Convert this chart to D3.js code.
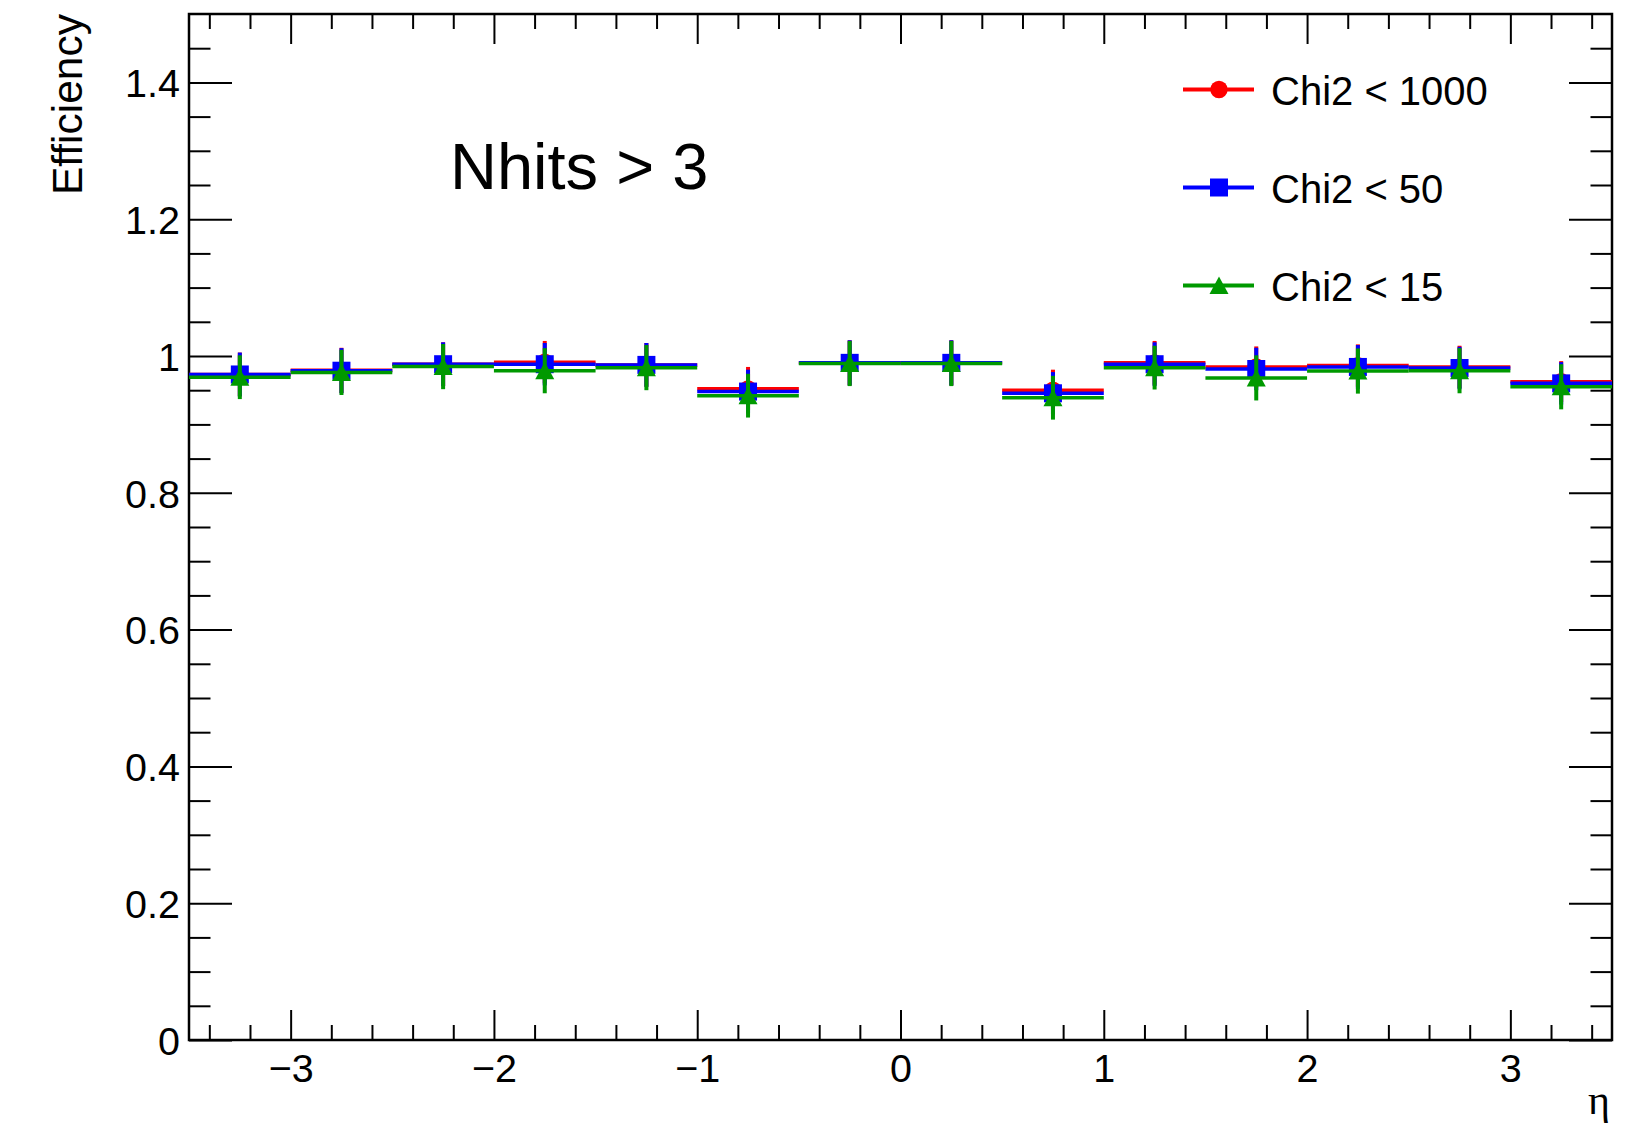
<!DOCTYPE html>
<html>
<head>
<meta charset="utf-8">
<script src="https://cdn.jsdelivr.net/npm/d3@7"></script>
<style>
  html, body { margin: 0; padding: 0; background: #fff; }
  svg { display: block; font-family: "Liberation Sans", Arial, Helvetica, sans-serif; }
</style>
</head>
<body>
<svg id="chart" width="1650" height="1129"></svg>
<script>
// Efficiency vs pseudorapidity, 14 bins of width 0.5
const binEdges = [-3.5, -3, -2.5, -2, -1.5, -1, -0.5, 0, 0.5, 1, 1.5, 2, 2.5, 3, 3.5];

const effChi1000 = [0.973, 0.979, 0.988, 0.991, 0.987, 0.952, 0.990, 0.990, 0.950, 0.990, 0.984, 0.986, 0.984, 0.9625];
const effChi50   = [0.973, 0.9785, 0.988, 0.988, 0.987, 0.948, 0.990, 0.990, 0.9455, 0.988, 0.981, 0.984, 0.9825, 0.960];
const effChi15   = [0.969, 0.976, 0.9845, 0.9785, 0.983, 0.942, 0.989, 0.989, 0.939, 0.983, 0.968, 0.978, 0.9785, 0.955];

const errChi1000 = [0.032, 0.033, 0.032, 0.031, 0.032, 0.032, 0.033, 0.033, 0.030, 0.032, 0.030, 0.031, 0.031, 0.030];
const errChi50   = [0.032, 0.033, 0.032, 0.031, 0.032, 0.032, 0.033, 0.033, 0.031, 0.032, 0.031, 0.032, 0.031, 0.031];
const errChi15   = [0.032, 0.033, 0.033, 0.033, 0.033, 0.032, 0.033, 0.033, 0.032, 0.032, 0.033, 0.033, 0.033, 0.033];

const seriesNames  = ["Chi2 < 1000", "Chi2 < 50", "Chi2 < 15"];
const seriesColors = ["#ff0000", "#0000ff", "#009900"];
const seriesMarkers = ["circle", "square", "triangle"];

const xMajorTicks = [-3, -2, -1, 0, 1, 2, 3];
const yMajorTicks = [0, 0.2, 0.4, 0.6, 0.8, 1, 1.2, 1.4];

const series = [
  { name: seriesNames[0], color: seriesColors[0], marker: seriesMarkers[0], eff: effChi1000, err: errChi1000 },
  { name: seriesNames[1], color: seriesColors[1], marker: seriesMarkers[1], eff: effChi50,   err: errChi50 },
  { name: seriesNames[2], color: seriesColors[2], marker: seriesMarkers[2], eff: effChi15,   err: errChi15 }
];

// frame geometry
const L = 189, R = 1612, T = 14, B = 1040;
const svg = d3.select("#chart");

const x = d3.scaleLinear().domain([-3.5, 3.5]).range([L, R]);
const y = d3.scaleLinear().domain([0, 1.5]).range([B, T]);

const xMinor = d3.range(-3.4, 3.41, 0.2).map(v => +v.toFixed(1)).filter(v => !xMajorTicks.includes(v));
const yMinor = d3.range(0.05, 1.5, 0.05).map(v => +v.toFixed(2)).filter(v => !yMajorTicks.some(t => Math.abs(t - v) < 1e-6));

const tickFont = 39.5;
const xTickLen = 30, yTickLen = 43;

function styleAxis(g) {
  g.select(".domain").remove();
  g.selectAll(".tick line").attr("stroke", "#000").attr("stroke-width", 2);
}

// bottom axis
const gxB = svg.append("g").attr("transform", `translate(0,${B})`)
  .call(d3.axisBottom(x).tickValues(xMajorTicks).tickSize(-xTickLen).tickFormat(d3.format("d")));
styleAxis(gxB);
gxB.selectAll(".tick text").attr("y", 42).attr("dy", null)
  .attr("font-size", tickFont).attr("fill", "#000").attr("font-family", "Liberation Sans, Arial, sans-serif");
svg.append("g").attr("transform", `translate(0,${B})`)
  .call(d3.axisBottom(x).tickValues(xMinor).tickSize(-xTickLen / 2).tickFormat(""))
  .call(styleAxis);

// top axis
svg.append("g").attr("transform", `translate(0,${T})`)
  .call(d3.axisTop(x).tickValues(xMajorTicks).tickSize(-xTickLen).tickFormat(""))
  .call(styleAxis);
svg.append("g").attr("transform", `translate(0,${T})`)
  .call(d3.axisTop(x).tickValues(xMinor).tickSize(-xTickLen / 2).tickFormat(""))
  .call(styleAxis);

// left axis
const gyL = svg.append("g").attr("transform", `translate(${L},0)`)
  .call(d3.axisLeft(y).tickValues(yMajorTicks).tickSize(-yTickLen).tickPadding(9).tickFormat(d3.format("~g")));
styleAxis(gyL);
gyL.selectAll(".tick text").attr("dy", "0.36em")
  .attr("font-size", tickFont).attr("fill", "#000").attr("font-family", "Liberation Sans, Arial, sans-serif");
svg.append("g").attr("transform", `translate(${L},0)`)
  .call(d3.axisLeft(y).tickValues(yMinor).tickSize(-yTickLen / 2).tickFormat(""))
  .call(styleAxis);

// right axis
svg.append("g").attr("transform", `translate(${R},0)`)
  .call(d3.axisRight(y).tickValues(yMajorTicks).tickSize(-yTickLen).tickFormat(""))
  .call(styleAxis);
svg.append("g").attr("transform", `translate(${R},0)`)
  .call(d3.axisRight(y).tickValues(yMinor).tickSize(-yTickLen / 2).tickFormat(""))
  .call(styleAxis);

// frame
svg.append("rect").attr("x", L).attr("y", T).attr("width", R - L).attr("height", B - T)
  .attr("fill", "none").attr("stroke", "#000").attr("stroke-width", 2.5);

// axis titles
svg.append("text").attr("transform", `translate(82,${T}) rotate(-90)`)
  .attr("text-anchor", "end").attr("font-size", 42.5).attr("fill", "#000").text("Efficiency");
svg.append("text").attr("x", R - 2).attr("y", 1114)
  .attr("text-anchor", "end").attr("font-size", 42)
  .attr("font-family", "Liberation Serif, DejaVu Serif, serif")
  .attr("fill", "#000").text("η");

// marker shapes
function markerPath(type) {
  if (type === "circle") return d3.symbol(d3.symbolCircle, Math.PI * 8.7 * 8.7)();
  if (type === "square") return "M-9,-9H9V9H-9Z";
  return "M0,-9L9.5,8.5H-9.5Z";
}

// data marks
const plot = svg.append("g");
series.forEach(s => {
  const g = plot.append("g");
  const bins = s.eff.map((v, i) => ({ lo: binEdges[i], hi: binEdges[i + 1], v, e: s.err[i] }));
  g.selectAll("line.h").data(bins).join("line").attr("class", "h")
    .attr("x1", d => x(d.lo)).attr("x2", d => x(d.hi))
    .attr("y1", d => y(d.v)).attr("y2", d => y(d.v))
    .attr("stroke", s.color).attr("stroke-width", 3.5);
  g.selectAll("line.v").data(bins).join("line").attr("class", "v")
    .attr("x1", d => x((d.lo + d.hi) / 2)).attr("x2", d => x((d.lo + d.hi) / 2))
    .attr("y1", d => y(d.v - d.e)).attr("y2", d => y(d.v + d.e))
    .attr("stroke", s.color).attr("stroke-width", 4);
  g.selectAll("path.m").data(bins).join("path").attr("class", "m")
    .attr("d", markerPath(s.marker))
    .attr("transform", d => `translate(${x((d.lo + d.hi) / 2)},${y(d.v)})`)
    .attr("fill", s.color);
});

// label
svg.append("text").attr("x", 450).attr("y", 189)
  .attr("font-size", 65).attr("fill", "#000").text("Nhits > 3");

// legend
const legendY = [89.5, 187.5, 285.5];
const leg = svg.append("g");
series.forEach((s, i) => {
  const ly = legendY[i];
  leg.append("line").attr("x1", 1183).attr("x2", 1254).attr("y1", ly).attr("y2", ly)
    .attr("stroke", s.color).attr("stroke-width", 4);
  leg.append("path").attr("d", markerPath(s.marker))
    .attr("transform", `translate(1219,${ly})`).attr("fill", s.color);
  leg.append("text").attr("x", 1271).attr("y", ly + 15.5)
    .attr("font-size", 40).attr("fill", "#000").text(s.name);
});
</script>
</body>
</html>
